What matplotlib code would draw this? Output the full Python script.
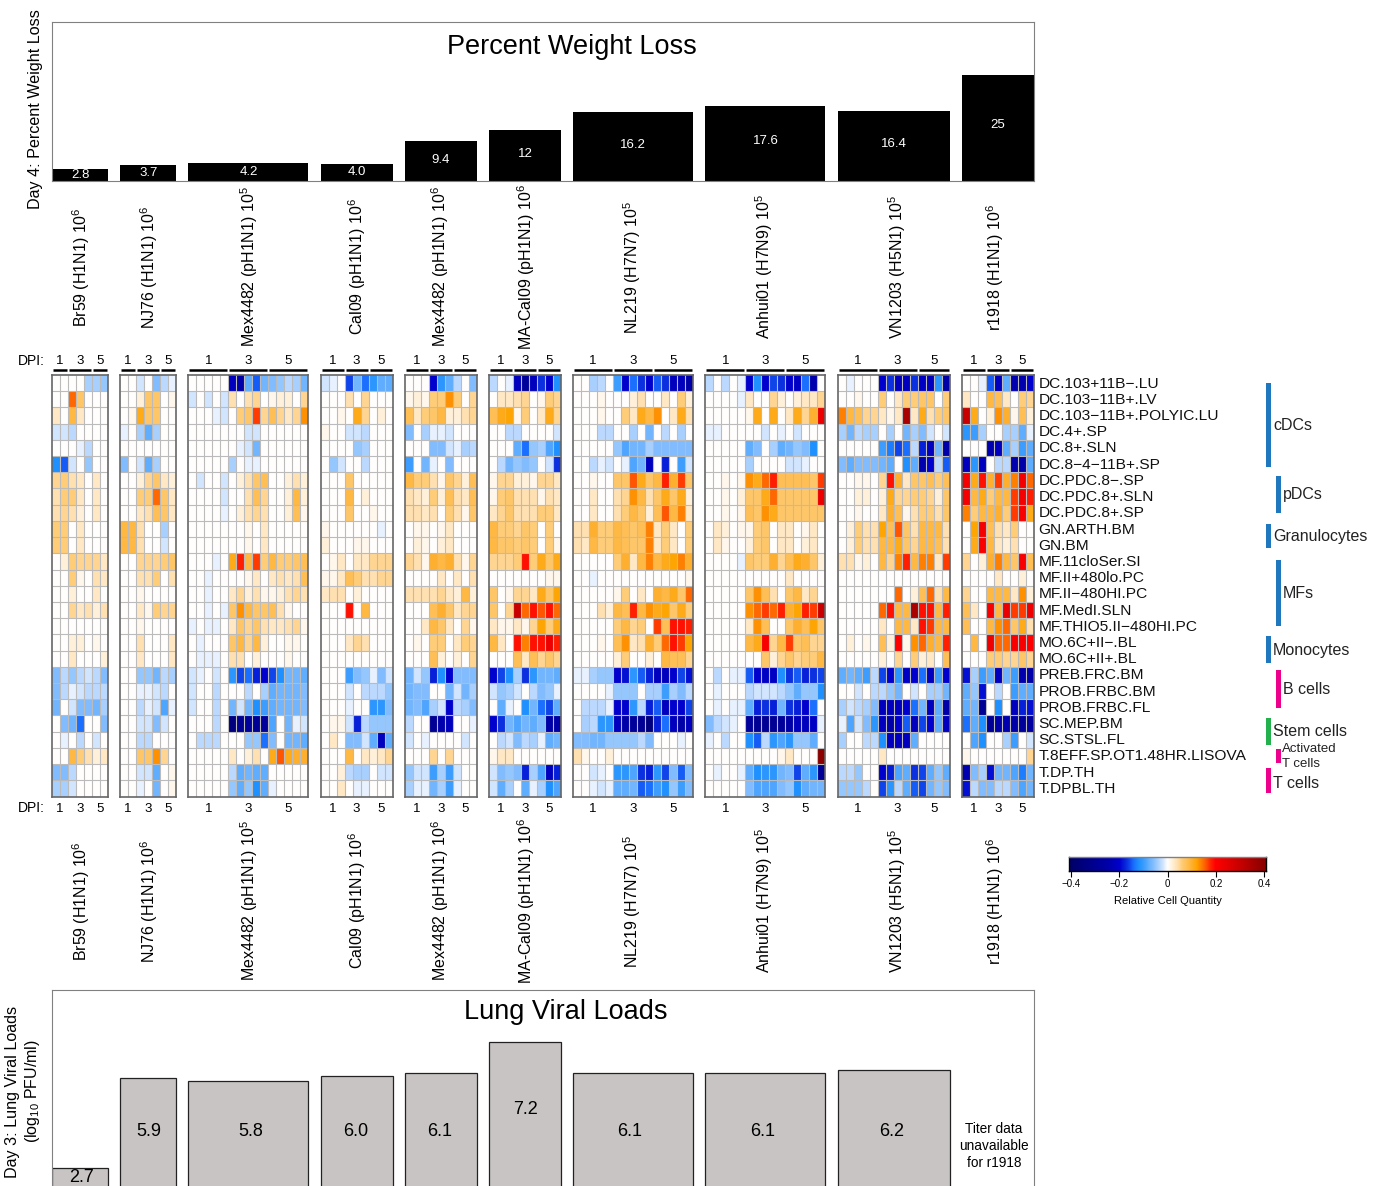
import numpy as np
import matplotlib
matplotlib.use('Agg')
import matplotlib.pyplot as plt
from matplotlib.colors import LinearSegmentedColormap

plt.rcParams['font.family'] = ['Liberation Sans', 'DejaVu Sans']
plt.rcParams['mathtext.default'] = 'regular'

W, H = 1383, 1186

cell_types = ['DC.103+11B−.LU', 'DC.103−11B+.LV', 'DC.103−11B+.POLYIC.LU', 'DC.4+.SP', 'DC.8+.SLN',
              'DC.8−4−11B+.SP', 'DC.PDC.8−.SP', 'DC.PDC.8+.SLN', 'DC.PDC.8+.SP', 'GN.ARTH.BM', 'GN.BM',
              'MF.11cloSer.SI', 'MF.II+480lo.PC', 'MF.II−480HI.PC', 'MF.MedI.SLN', 'MF.THIO5.II−480HI.PC',
              'MO.6C+II−.BL', 'MO.6C+II+.BL', 'PREB.FRC.BM', 'PROB.FRBC.BM', 'PROB.FRBC.FL', 'SC.MEP.BM',
              'SC.STSL.FL', 'T.8EFF.SP.OT1.48HR.LISOVA', 'T.DP.TH', 'T.DPBL.TH']

strains = ['Br59 (H1N1) 10$^{6}$', 'NJ76 (H1N1) 10$^{6}$', 'Mex4482 (pH1N1) 10$^{5}$', 'Cal09 (pH1N1) 10$^{6}$',
           'Mex4482 (pH1N1) 10$^{6}$', 'MA-Cal09 (pH1N1) 10$^{6}$', 'NL219 (H7N7) 10$^{5}$',
           'Anhui01 (H7N9) 10$^{5}$', 'VN1203 (H5N1) 10$^{5}$', 'r1918 (H1N1) 10$^{6}$']

# columns per day (1, 3, 5)
day_cols = [[2, 3, 2], [2, 3, 2], [5, 5, 5], [3, 3, 3], [3, 3, 3], [3, 3, 3], [5, 5, 5], [5, 5, 5], [5, 5, 4], [3, 3, 3]]

weight_loss = [2.8, 3.7, 4.2, 4.0, 9.4, 12, 16.2, 17.6, 16.4, 25]
weight_labels = ['2.8', '3.7', '4.2', '4.0', '9.4', '12', '16.2', '17.6', '16.4', '25']
viral_load = [2.7, 5.9, 5.8, 6.0, 6.1, 7.2, 6.1, 6.1, 6.2]
viral_labels = ['2.7', '5.9', '5.8', '6.0', '6.1', '7.2', '6.1', '6.1', '6.2']

# heatmap values, in hundredths
br59 = [
    [0, 0, 0, 0, -4, -4, -5], [0, 0, 15, 7, 0, 0, 0], [3, 0, 9, 3, 0, 0, 0], [-2, -2, -3, 0, 0, 0, 0],
    [0, 0, 0, -1, -3, 0, 0], [-12, -15, -2, 0, -5, 0, 0], [5, 6, 4, 3, 0, 3, 0], [4, 6, 6, 3, 0, 3, 0],
    [4, 5, 4, 2, 0, 3, 0], [6, 6, 0, 3, 0, 0, 0], [6, 6, 0, 3, 0, 0, 0], [0, 2, 6, 5, 5, 5, 3],
    [0, 0, 6, 1, 0, 4, 3], [0, 0, 2, 0, 0, 3, 0], [0, 0, 5, 3, 4, 2, 4], [0, 0, 0, 0, 0, 0, 0],
    [0, 0, 2, 2, 0, 1, 0], [0, 0, 3, 0, 0, 0, 2], [-6, -3, -5, -3, -2, -3, -6], [-6, -3, -1, -2, -3, -3, -3],
    [-7, 0, -2, -6, -6, -7, -4], [0, -6, -7, -14, 0, 0, -6], [0, -1, 0, -3, 0, -2, 0], [0, 0, 9, 6, 4, 2, 3],
    [-6, -6, -3, 0, 0, 0, 0], [-4, -4, -2, 0, 0, 0, 0]]
nj76 = [
    [0, 0, -2, 0, -6, -3, -1], [0, 0, 2, 7, 7, 0, 1], [0, 1, 11, 7, 7, 0, 0], [-1, 0, -4, -8, -4, 0, 0],
    [0, 0, 0, 0, 0, 0, 0], [-6, 0, -2, -8, -4, 0, 0], [0, 0, 2, 5, 7, 3, 2], [0, 0, 6, 6, 15, 7, 3],
    [0, 0, 3, 4, 8, 7, 3], [9, 9, 4, 0, 0, -4, 0], [9, 9, 4, 0, 0, -2, 0], [0, 0, 5, 5, 5, 6, 7],
    [0, 0, 4, 4, 6, 0, 4], [0, 0, 1, 0, 0, 0, 0], [0, 0, 3, 1, 6, 5, 5], [0, 0, 1, 0, 0, 0, 0],
    [0, 0, 4, 0, 0, 0, 3], [0, 0, 3, 0, 0, 0, 3], [0, 0, -5, -5, -7, -3, -4], [0, 0, -1, -1, -2, -3, 0],
    [0, 0, -3, -1, -2, -9, -1], [0, 0, -2, -2, -6, -2, 0], [0, 0, -3, -3, 0, 0, 0], [0, 0, 7, 7, 13, 5, 0],
    [0, 0, -2, -2, -8, 0, 1], [0, 0, -1, 0, -7, 0, 1]]
mex_1e5 = [
    [0, 0, 0, 0, 0, -22, -25, -8, -15, -7, -6, -5, -3, -4, -7],
    [-2, 0, -2, 0, -2, 4, 0, 4, 5, 0, 1, 2, 2, 0, 5],
    [0, 0, 0, -1, -2, 0, 6, 7, 17, 5, 8, 5, 3, 5, 13],
    [0, 0, 0, 0, 0, 0, 0, -2, -2, 0, 0, 0, 0, 0, 0],
    [0, 0, 0, 0, 0, 0, -1, -2, -7, 0, 0, 0, 0, 0, 0],
    [0, 0, 0, 0, 0, -4, 0, -1, -1, 0, 0, 0, 0, 0, 0],
    [0, -2, 0, 0, -2, 0, 2, 4, 7, 8, 0, 0, 2, 4, 2],
    [0, 0, 0, 0, -2, 0, 0, 4, 8, 5, 0, 0, 2, 9, 2],
    [0, 0, 0, 0, -1, 0, 2, 4, 5, 4, 0, 0, 2, 8, 1],
    [0, 0, 0, 0, 0, 0, 0, 1, 0, 3, 0, 0, 0, 0, 0],
    [0, 0, 0, 0, 0, 0, 0, 1, 0, 3, 0, 0, 0, 0, 0],
    [0, 0, 0, -1, 0, 11, 18, 9, 17, 6, 9, 6, 6, 7, 8],
    [0, 0, -1, 0, 0, 0, 0, 1, 3, 0, 3, 4, 3, 4, 8],
    [0, 0, -1, 0, 0, 3, 5, 2, 4, 1, 1, 2, 4, 5, 4],
    [0, 0, -1, 0, -1, 7, 13, 9, 7, 7, 8, 4, 1, 0, 0],
    [-1, 0, -1, -1, 0, 3, 7, 5, 7, 4, 3, 3, 4, 5, 1],
    [0, -1, 0, 0, 0, 7, 9, 5, 9, 2, 0, 0, 1, 1, 0],
    [0, -1, -1, -1, 0, 4, 4, 0, 2, 0, 0, 0, 1, 0, 0],
    [-2, -1, 0, -2, 0, -11, -16, -14, -18, -20, -16, -12, -7, -7, -8],
    [-2, 0, 0, -3, 0, 0, 0, -3, 0, -4, -8, -7, -7, -7, -6],
    [-2, 0, 0, -3, 0, -7, -2, -7, -12, -10, -8, -7, -7, -7, -6],
    [0, 0, 0, -3, 0, -35, -30, -28, -30, -28, -9, 0, -7, -1, -2],
    [0, -3, -3, -3, 0, 0, 0, -5, -5, -14, -6, 0, -7, -7, -8],
    [0, 0, 0, 0, 0, 3, 0, 2, 4, 0, 11, 16, 11, 10, 10],
    [0, 0, 0, 0, 0, -3, -8, -7, -8, -8, 0, 0, 0, 0, 0],
    [0, 0, 0, 0, 0, -5, -8, -5, -12, -8, -1, 0, 0, 0, 0]]
cal09 = [
    [-2, -1, 0, -16, -7, -14, -11, -8, -8], [0, 0, 0, 4, 0, 5, 0, 0, 0], [0, 0, 1, 0, 11, 5, 0, 2, 0],
    [1, 0, 0, -2, -2, -3, 0, 0, 0], [0, 0, 0, 0, -5, -4, 0, 0, 0], [0, -5, -2, 0, 0, -3, 0, 0, 0],
    [0, 0, 0, 7, 0, 0, 0, 0, 0], [0, 0, 0, 9, 0, 2, 0, 0, 0], [0, 0, 0, 7, 0, 0, 1, 0, 0],
    [1, 0, 0, 0, 0, 0, 0, -1, 0], [2, 0, 0, 0, 1, 1, 0, 0, 0], [0, 1, 3, 0, 3, 3, 5, 5, 5],
    [1, 1, 3, 8, 6, 4, 4, 5, 5], [3, 4, 4, 0, 2, 0, 0, 0, 0], [0, 0, 0, 19, 0, 9, 0, 0, 0],
    [0, 0, 0, 0, 0, 0, 0, 0, 0], [0, 0, 0, 3, 5, 4, 0, 0, 0], [0, 0, 0, 0, 0, 0, 0, 0, 0],
    [0, 0, 0, -10, -6, -5, -1, -6, -2], [0, 0, 0, -2, 0, -3, -3, -3, -5], [0, 0, 0, -1, 0, 0, -11, -11, -6],
    [0, 1, 1, -2, -18, -3, -5, -5, -5], [0, 3, 0, -6, -6, -2, -8, -22, -8], [0, 0, 0, 9, 0, 3, 2, 3, 5],
    [0, 0, 2, -3, -4, -4, 0, -2, -2], [0, 0, 3, 0, -1, -1, 0, 0, 0]]
mex_1e6 = [
    [0, 0, 0, -20, -11, -8, -3, 0, -6], [1, 2, 1, 6, 6, 13, 6, 0, 5], [8, 3, 6, 7, 9, 2, 2, 4, 5],
    [-6, 0, -4, -1, -1, -2, 0, 0, 0], [0, 0, 0, -6, -6, -2, -1, -4, -3], [-10, 0, -7, -1, 0, -6, 0, 0, 0],
    [9, 6, 6, 4, 1, 7, 5, 2, 8], [4, 3, 2, 6, 2, 8, 4, 3, 8], [4, 4, 3, 4, 0, 6, 4, 1, 7],
    [0, 1, 1, 0, 1, 3, 0, 0, 0], [0, 2, 1, 0, 2, 3, 0, 0, 0], [5, 4, 1, 10, 9, 10, 4, 1, 5],
    [0, 0, 0, 0, 3, 0, 3, 0, 4], [4, 4, 4, 4, 5, 3, 2, 9, 2], [0, 0, 0, 8, 10, 7, 3, 5, 5],
    [0, 0, 3, 9, 7, 3, 0, 5, 1], [0, 1, 0, 6, 6, 0, 3, 6, 5], [0, 0, 0, 8, 2, 0, 2, 0, 5],
    [-7, -2, -5, -18, -12, -20, -6, -6, -6], [-7, -6, -6, 0, 0, -7, -2, -7, -4],
    [-7, -6, -9, -4, -2, -20, -3, -4, -6], [-3, 0, 0, -30, -24, -22, 0, 0, -1],
    [-2, 0, -1, 0, 0, 0, 0, -2, 0], [0, 0, 0, 5, 0, 5, 0, 0, 0],
    [-5, -2, -2, -10, -4, -10, -2, 0, 0], [-4, -1, -1, -7, -4, -10, -1, 0, 0]]
ma_cal09 = [
    [-3, 0, -1, -22, -28, -22, -17, -20, -12], [0, 3, 3, 4, 5, 0, 1, 6, 5], [8, 11, 12, 1, 6, 0, 3, 11, 5],
    [0, 0, -3, -3, 0, 0, 0, 0, -2], [0, 0, 0, -8, -14, -5, -4, -9, -12], [0, -3, -7, -5, -6, -5, 0, -2, -17],
    [1, 5, 5, 2, 2, 1, 5, 5, 3], [1, 6, 7, 4, 4, 4, 1, 4, 3], [3, 5, 7, 4, 4, 4, 6, 6, 3],
    [9, 6, 6, 5, 7, 6, 0, 6, 0], [9, 7, 7, 6, 7, 6, 0, 6, 1], [5, 5, 5, 6, 19, 6, 11, 7, 11],
    [0, 0, 0, 0, 0, 0, 0, 1, 1], [7, 0, 1, 5, 5, 3, 11, 7, 12], [7, 0, 5, 30, 15, 19, 16, 19, 15],
    [3, 1, 1, 3, 1, 5, 12, 6, 11], [9, 3, 0, 19, 14, 19, 19, 23, 18], [0, 0, 0, 8, 3, 8, 5, 7, 5],
    [-20, -16, -12, -4, -17, -11, -7, -7, -8], [-2, -5, -4, -2, 0, -3, -6, -5, -1],
    [0, -8, -1, 0, -12, -7, -14, -16, -8], [-20, -17, -7, -9, -7, -8, -6, -25, -25],
    [0, -3, -2, -6, -3, -4, -1, -8, -7], [1, 3, 3, 0, 0, 0, 0, 0, 0],
    [-2, -6, -5, -6, -18, -4, -9, -22, -18], [-2, -8, -4, 0, -8, -1, -4, -12, -9]]
nl219 = [
    [0, 0, -4, -3, 0, -10, -20, -14, -17, -20, -15, -17, -22, -22, -25],
    [0, 0, 0, 1, 0, 0, 0, 2, 4, 0, 0, 3, 0, 6, 2],
    [0, 0, 0, 1, 0, 0, 6, 3, 11, 9, 13, 0, 3, 11, 4],
    [0, 0, 0, -3, -3, 0, 0, -4, 0, -7, 0, -3, 0, -4, 0],
    [0, 0, 0, 0, 0, -5, -9, -7, -7, -4, -6, -6, -6, -6, -6],
    [0, 0, -3, -1, -2, 0, -1, -9, -7, -22, 0, -18, 0, -10, -2],
    [0, 0, 1, 0, 0, 7, 7, 16, 11, 7, 9, 18, 10, 17, 7],
    [0, 0, 3, 0, 0, 4, 5, 13, 9, 4, 7, 11, 7, 11, 2],
    [0, 0, 3, 0, 0, 4, 6, 9, 7, 2, 8, 16, 9, 14, 3],
    [4, 4, 10, 6, 6, 9, 8, 7, 8, 14, 3, 6, 3, 0, 6],
    [4, 3, 9, 6, 6, 9, 8, 7, 7, 14, 3, 6, 3, 0, 6],
    [0, 0, 0, 0, 0, 6, 10, 3, 9, 14, 9, 11, 12, 14, 10],
    [0, 0, -1, 0, 0, 0, 0, 0, 0, 0, 0, 0, 0, 0, 1],
    [0, 0, 0, 0, 0, 1, 6, 0, 3, 0, 10, 9, 11, 7, 15],
    [0, 0, 0, 4, 2, 9, 8, 18, 9, 13, 11, 12, 7, 11, 6],
    [0, 0, 0, 0, 0, 6, 9, 5, 6, 0, 17, 8, 19, 19, 18],
    [0, 0, 0, 1, 0, 8, 13, 3, 4, 10, 6, 15, 19, 17, 12],
    [0, 0, 0, 0, 0, 2, 6, 0, 0, 2, 0, 9, 8, 8, 5],
    [-1, -1, -4, -5, -5, -20, -19, -11, -15, -18, -22, -22, -20, -16, -19],
    [0, 0, 0, 0, -1, -5, -5, -5, 0, -4, -4, -10, -4, -6, -3],
    [0, -3, -3, -3, -1, -20, -20, -11, -3, -18, -15, -22, -20, -20, -16],
    [0, -4, -3, -11, -11, -22, -25, -28, -30, -35, -18, -14, -22, -25, -22],
    [-6, -6, -7, -7, -5, -5, -5, -5, -3, -6, 0, 0, 0, -1, 0],
    [4, 1, 0, 0, 2, 0, 0, 0, 0, 0, 0, 0, 0, 0, 0],
    [0, 0, -2, -1, 0, -11, -11, -9, -17, -18, -11, -16, -6, -15, -6],
    [0, 0, -1, -2, -1, -8, -8, -7, -15, -14, -10, -12, -5, -10, -6]]
anhui01 = [
    [-3, 0, -3, 0, -1, -20, -12, -20, -16, -17, -20, -21, -14, -24, 0],
    [0, 0, 0, 0, -1, 3, 0, 0, 5, 2, 0, 2, 3, 3, 5],
    [0, 0, 0, 0, 0, 1, 11, 0, 11, 0, 3, 11, 5, 10, 23],
    [-1, -1, 0, 0, 0, 0, 0, -2, 0, -1, 0, -2, 0, 0, 0],
    [0, 0, 0, 0, 0, -8, -6, 0, -4, -8, -7, -5, -6, -12, 0],
    [0, 0, 0, 0, 0, -4, 0, 0, 0, 0, -2, -2, -1, 0, 0],
    [0, 0, 1, 0, 1, 13, 11, 15, 18, 8, 8, 8, 8, 7, 17],
    [0, 0, 1, 0, 2, 7, 7, 11, 15, 7, 7, 7, 7, 7, 23],
    [0, 0, 1, 0, 1, 8, 7, 13, 11, 7, 7, 7, 7, 7, 7],
    [0, 3, 2, 0, 1, 1, 6, 7, 0, 3, 3, 0, 1, 3, 0],
    [0, 3, 1, 0, 0, 2, 6, 7, 0, 3, 3, 0, 2, 3, 0],
    [0, 0, 0, 0, -1, 7, 6, 6, 10, 5, 8, 11, 10, 7, 2],
    [0, 0, 0, 0, 0, 0, 0, 0, 0, 0, 3, 0, 0, 0, 0],
    [0, 0, 0, 0, 0, 7, 13, 8, 4, 0, 7, 9, 3, 5, 0],
    [0, 0, 0, 0, 0, 13, 15, 17, 15, 18, 10, 12, 18, 17, 30],
    [0, 0, 0, 0, 0, 3, 13, 8, 0, 0, 7, 10, 8, 12, 7],
    [0, 0, 0, 0, 0, 9, 11, 21, 5, 9, 17, 7, 8, 5, 5],
    [0, 0, 0, 0, 0, 0, 0, 7, 2, 5, 7, 5, 6, 6, 9],
    [0, -3, 0, -1, -1, -15, -20, -21, -21, -12, -17, -15, -18, -17, -16],
    [0, -1, 0, 0, 0, -3, -2, -2, -2, -3, -5, -8, -5, -5, -12],
    [0, -1, 0, -1, -1, -8, -18, -17, -18, -7, -17, -18, -20, -14, 0],
    [-6, -3, -2, -1, 0, -28, -30, -30, -30, -28, -25, -22, -22, -21, -1],
    [-1, 0, -3, 0, 0, -12, -15, -3, -11, -9, -11, -5, -5, -8, 0],
    [0, 0, 0, 0, 0, 0, 0, 0, 0, 1, 3, 0, 0, 0, 40],
    [0, -1, 0, 0, -1, -8, -12, -11, -11, -7, -6, -16, -8, -11, -30],
    [0, 0, 0, 0, 0, -6, -9, -9, -9, -6, -5, -12, -8, -7, -7]]
vn1203 = [
    [0, -1, 0, 0, 0, -20, -17, -22, -22, -17, -21, -22, -11, -25],
    [0, 0, 1, 0, 0, 6, 0, 3, 6, 6, 7, 7, 0, 6],
    [14, 9, 8, 5, 5, 3, 1, 3, 35, 3, 11, 4, 6, 7],
    [-4, -7, -3, -4, -4, 0, -4, 0, -7, -4, -6, -2, 0, -2],
    [0, 0, 0, 0, 0, -10, -13, -16, -14, -3, -18, -22, -7, -25],
    [-6, -8, -6, -6, -6, -7, -8, 0, -12, -8, -24, -20, -3, -15],
    [0, 0, 1, 1, 0, 5, 19, 10, 3, 7, 7, 8, 6, 8],
    [0, 0, 2, 2, 0, 2, 11, 5, 5, 6, 6, 5, 2, 7],
    [0, 0, 1, 0, 0, 3, 10, 8, 1, 4, 6, 6, 4, 7],
    [0, 2, 6, 4, 4, 12, 8, 16, 7, 4, 9, 9, 9, 4],
    [0, 2, 6, 4, 4, 9, 9, 11, 7, 5, 9, 9, 8, 4],
    [4, 4, 1, 2, 0, 9, 5, 14, 18, 9, 14, 14, 3, 17],
    [0, 0, 0, 0, 0, 0, 0, 0, 0, 0, 0, 0, 0, 0],
    [0, 0, 0, 0, 0, 0, 0, 15, 0, 2, 8, 15, 4, 9],
    [0, 0, 0, 0, 0, 15, 19, 9, 9, 35, 19, 19, 9, 18],
    [0, 0, 0, 0, 0, 3, 0, 9, 9, 3, 19, 17, 9, 9],
    [0, 2, 0, 1, 0, 8, 2, 20, 1, 13, 15, 10, 9, 18],
    [0, 0, 0, 0, 0, 2, 0, 5, 0, 6, 2, 3, 0, 8],
    [-8, -7, -8, -10, -3, -16, -20, -11, -21, -20, -14, -22, -10, -20],
    [0, 0, -2, 0, -3, -3, -5, -7, 0, -2, 0, -4, -4, -7],
    [-4, -2, -3, -4, -6, -22, -22, -22, -20, -14, -7, -22, -8, -25],
    [-1, -9, -2, -6, -11, -22, -25, -20, -15, -22, -16, -20, -8, -22],
    [-4, 0, 0, -3, -3, -12, -22, -22, -22, -8, 0, 0, 0, 0],
    [0, 0, 0, 0, 0, 3, 0, 0, 0, 0, 0, 0, 0, 0],
    [-3, -3, -5, 0, 0, -20, -18, -9, -8, -17, -16, -8, -5, -8],
    [-5, -5, -5, -3, 0, -16, -11, -3, -8, -15, -16, -7, -5, -6]]
r1918 = [
    [0, 0, -1, -15, -22, -8, -24, -24, -20], [3, 0, 0, 9, 8, 3, 0, 6, 5], [30, 11, 0, 2, 13, 10, 1, 8, 2],
    [-11, -10, -4, 0, 0, -4, -4, -8, -1], [0, 0, 0, -24, -22, -8, -4, -10, -8], [-22, -11, -22, 0, -3, -3, -24, -25, -8],
    [22, 11, 19, 10, 17, 10, 14, 22, 15], [22, 9, 11, 6, 9, 9, 17, 22, 18], [14, 6, 9, 9, 10, 6, 17, 21, 11],
    [0, 12, 22, 8, 4, 3, 6, 0, 0], [0, 11, 21, 9, 3, 2, 4, 0, 0], [5, 0, 2, 10, 14, 9, 7, 21, 8],
    [0, 0, 0, 0, 3, 0, 0, 2, 0], [5, 0, 0, 9, 9, 9, 3, 13, 2], [8, 3, 0, 21, 9, 24, 17, 17, 23],
    [8, 0, 0, 9, 13, 15, 7, 11, 4], [0, 9, 0, 23, 15, 15, 21, 21, 20], [0, 0, 0, 6, 6, 5, 5, 7, 5],
    [-19, -4, -10, -8, -22, -7, -10, -24, -25], [-8, -5, -19, 0, -3, 0, -10, -8, -8],
    [-8, -7, -30, 0, -12, 0, -22, -18, -19], [-14, -8, -12, -30, -25, -24, -25, -28, -27],
    [0, -9, -12, 0, 0, -4, -10, 0, -2], [1, 0, 0, 0, 0, 0, 0, 0, 5],
    [-24, -6, -4, -19, -7, -7, -9, -13, -7], [-19, -3, -6, -6, -3, -3, -6, -9, -7]]

panels = [br59, nj76, mex_1e5, cal09, mex_1e6, ma_cal09, nl219, anhui01, vn1203, r1918]

# cell groups on the right side
group_names = ['cDCs', 'pDCs', 'Granulocytes', 'MFs', 'Monocytes', 'B cells', 'Stem cells', 'Activated\nT cells', 'T cells']
group_tops = [383, 476, 524, 560, 636, 670, 718, 749, 768]
group_bottoms = [467, 513, 548, 626, 663, 708, 745, 763, 793]
group_lefts = [1266, 1276, 1266, 1276, 1266, 1276, 1266, 1276, 1266]
group_label_y = [425.5, 494.5, 536.5, 593.5, 650, 690, 731.5, 756.5, 784]
group_colors = ['#1f78be', '#1f78be', '#1f78be', '#1f78be', '#1f78be', '#ec008c', '#22b14c', '#ec008c', '#ec008c']

nodes = [(-40, '#00006b'), (-25, '#0000a8'), (-20, '#0000cd'), (-17, '#0a30e0'), (-14, '#1a6fff'), (-12, '#1e90ff'),
         (-10, '#3b9dff'), (-8, '#60aeff'), (-6, '#80bcff'), (-4, '#a8d0ff'), (-2, '#d0e4ff'), (0, '#ffffff'),
         (2, '#fff0d8'), (4, '#ffe0b0'), (6, '#ffcc77'), (8, '#ffc055'), (10, '#ffb030'), (12, '#ffa500'),
         (14, '#ff8000'), (16, '#ff5500'), (18, '#ff2000'), (20, '#ff0000'), (30, '#c80000'), (40, '#8b0000')]
cmap = LinearSegmentedColormap.from_list('cells', [((v + 40) / 80, c) for v, c in nodes], N=512)


def px_axes(x0, y0, x1, y1):
    # axes from pixel box, y counted from the top
    return fig.add_axes([x0 / W, 1 - y1 / H, (x1 - x0) / W, (y1 - y0) / H])


def px_text(x, y, s, **kw):
    kw.setdefault('ha', 'center')
    kw.setdefault('va', 'center')
    fig.text(x / W, 1 - y / H, s, **kw)


fig = plt.figure(figsize=(W / 100, H / 100), dpi=100)

cell_w = 8.0
gap = 12.2
left = 52.0
starts = []
ends = []
pos = left
for cols in day_cols:
    starts.append(pos)
    pos += sum(cols) * cell_w
    ends.append(pos)
    pos += gap
starts = np.array(starts)
ends = np.array(ends)
right = ends[-1]

# top bars
ax = px_axes(left, 22, right, 181)
ax.bar(starts, weight_loss, width=ends - starts, align='edge', color='black')
for x, v, lab in zip((starts + ends) / 2, weight_loss, weight_labels):
    ax.text(x, v * 0.53, lab, color='white', ha='center', va='center', fontsize=9.5)
ax.set_xlim(left, right)
ax.set_ylim(0, 37.5)
ax.set_xticks([])
ax.set_yticks([])
for s in ax.spines.values():
    s.set_color('#808080')
    s.set_linewidth(0.8)
px_text(572, 47, 'Percent Weight Loss', fontsize=19.5)
px_text(36, 109.5, 'Day 4: Percent Weight Loss', rotation=90, fontsize=11.6)

# strain labels above / below
label_x = [81, 149, 249.5, 357.5, 440, 526, 632, 764, 897, 995]
for x, s in zip(label_x, strains):
    px_text(x, 267, s, rotation=90, fontsize=11.5)
    px_text(x, 901, s, rotation=90, fontsize=11.5)

# heatmap panels
map_top, map_bottom = 375, 796.5
for x0, x1, vals, cols in zip(starts, ends, panels, day_cols):
    ax = px_axes(x0, map_top, x1, map_bottom)
    arr = np.array(vals) / 100
    ax.pcolormesh(arr, cmap=cmap, vmin=-0.4, vmax=0.4)
    # grid lines drawn on their own, mesh edges came out too heavy
    ax.vlines(np.arange(1, arr.shape[1]), 0, arr.shape[0], color='#bbbbbb', linewidth=0.8)
    ax.hlines(np.arange(1, arr.shape[0]), 0, arr.shape[1], color='#bbbbbb', linewidth=0.8)
    ax.set_xlim(0, arr.shape[1])
    ax.set_ylim(arr.shape[0], 0)
    ax.set_xticks([])
    ax.set_yticks([])
    for s in ax.spines.values():
        s.set_color('#666666')
        s.set_linewidth(1.2)
    # day headers
    c = x0
    for day, n in zip(['1', '3', '5'], cols):
        w = n * cell_w
        fig.add_artist(plt.Line2D([(c + 1) / W, (c + w - 1) / W], [1 - 370 / H, 1 - 370 / H],
                                  color='black', linewidth=1.8, solid_capstyle='butt'))
        px_text(c + w / 2, 361, day, fontsize=9.5)
        px_text(c + w / 2, 808.5, day, fontsize=9.5)
        c += w

px_text(18, 361, 'DPI:', ha='left', fontsize=10)
px_text(18, 808.5, 'DPI:', ha='left', fontsize=10)

# row labels
row_h = (map_bottom - map_top) / len(cell_types)
for i, name in enumerate(cell_types):
    px_text(1038.5, map_top + (i + 0.5) * row_h + 0.5, name, ha='left', fontsize=11.15, color='#111111')

# cell groups
for name, t, b, l, c, ly in zip(group_names, group_tops, group_bottoms, group_lefts, group_colors, group_label_y):
    g = px_axes(l, t, l + 4.5, b)
    g.set_facecolor(c)
    g.set_xticks([])
    g.set_yticks([])
    for s in g.spines.values():
        s.set_visible(False)
    if name.startswith('Activated'):
        px_text(l + 6, ly, name, ha='left', fontsize=9.5, color='#222222', linespacing=1.3)
    else:
        px_text(l + 7, ly, name, ha='left', fontsize=11.5, color='#222222')

# colorbar
cb = px_axes(1069, 857, 1266, 871)
cb.imshow(np.linspace(-0.409, 0.408, 512).reshape(1, -1), cmap=cmap, vmin=-0.4, vmax=0.4, aspect='auto',
          extent=[-0.409, 0.408, 0, 1])
cb.set_xlim(-0.409, 0.408)
cb.set_yticks([])
cb.set_xticks([-0.4, -0.2, 0, 0.2, 0.4])
cb.set_xticklabels(['−0.4', '−0.2', '0', '0.2', '0.4'], fontsize=7)
cb.tick_params(axis='x', length=4, width=0.8, pad=1.5)
for s in cb.spines.values():
    s.set_linewidth(1.0)
cb.spines['top'].set_color('#808080')
px_text(1167.5, 901, 'Relative Cell Quantity', fontsize=8.0)

# bottom bars
ax = px_axes(left, 990, right, H)
ax.bar(starts[:-1], viral_load, width=(ends - starts)[:-1], align='edge', color='#c8c4c4',
       edgecolor='#222222', linewidth=0.9)
ax.set_xlim(left, right)
ax.set_ylim(2.057, 9.057)
ax.set_xticks([])
ax.set_yticks([])
for s in ax.spines.values():
    s.set_color('#808080')
    s.set_linewidth(0.8)
ax.spines['bottom'].set_visible(False)
viral_text_x = [81, 149, 251, 356, 440, 525, 630, 763, 892]
viral_text_y = [1178, 1131, 1131, 1131, 1131, 1109, 1131, 1131, 1131]
for x, y, lab in zip(viral_text_x, viral_text_y, viral_labels):
    px_text(x, y, lab, fontsize=13)
px_text(566, 1012, 'Lung Viral Loads', fontsize=19.5)
px_text(994, 1146, 'Titer data\nunavailable\nfor r1918', fontsize=9.8, linespacing=1.25)
px_text(13, 1092, 'Day 3: Lung Viral Loads', rotation=90, fontsize=11.6)
px_text(32, 1091, '(log$_{10}$ PFU/ml)', rotation=90, fontsize=11.5)

fig.savefig('out.png', dpi=100)
